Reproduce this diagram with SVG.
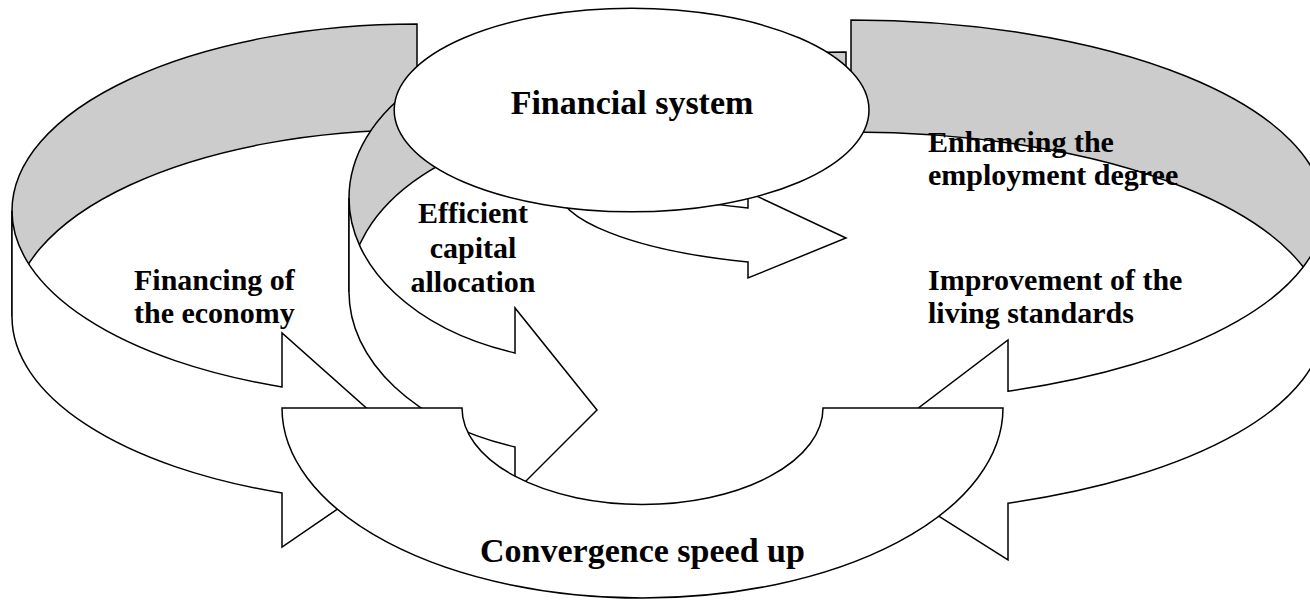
<svg xmlns="http://www.w3.org/2000/svg" width="1310" height="600" viewBox="0 0 1310 600">
<style>
.s{stroke:#000;stroke-width:1.5;stroke-linejoin:miter}
.w{fill:#fff}
.g{fill:#cccccc}
text{font-family:"Liberation Serif","Times New Roman",serif;font-weight:bold;fill:#000}
.t30{font-size:30px}
.t34{font-size:34px}
</style>
<rect width="1310" height="600" fill="#fff"/>
<g id="arrow-financing">
<path class="s g" d="M417,24 A405,186.8 0 0 0 12,210.8 L12,316.8 A405,186.8 0 0 1 417,130 Z"/>
<path class="s w" d="M12,210.8 A405,186.8 0 0 0 282,386.9 L282,333 L418,454 L282,547 L282,492.9 A405,186.8 0 0 1 12,316.8 Z"/>
</g>
<g id="arrow-efficient">
<path class="s g" d="M597,33.8 A248,164.2 0 0 0 349,198 L349,292 A248,164.2 0 0 1 597,127.8 Z"/>
<path class="s w" d="M349,198 A248,164.2 0 0 0 515,353 L515,308 L597,410 L515,492 L515,447 A248,164.2 0 0 1 349,292 Z"/>
</g>
<g id="arrow-hidden">
<path class="s g" d="M846,52 A289,80.4 0 0 0 557,132.4 L557,186.4 A289,80.4 0 0 1 846,106 Z"/>
<path class="s w" d="M557,132.4 A289,80.4 0 0 0 748,208 L748,192 L846,238 L748,278 L748,262 A289,80.4 0 0 1 557,186.4 Z"/>
</g>
<g id="arrow-employment">
<path class="s g" d="M851,20 A473,191 0 0 1 1324,211 L1324,323 A473,191 0 0 0 851,132 Z"/>
<path class="s w" d="M1324,211 A473,191 0 0 1 1008,391.2 L1008,340 L850,460 L1008,560 L1008,503.2 A473,191 0 0 0 1324,323 Z"/>
</g>
<g id="financial-system">
<ellipse class="s w" cx="631.6" cy="110" rx="237.4" ry="101.8"/>
<text class="t34" x="632" y="114" text-anchor="middle">Financial system</text>
</g>
<g id="convergence">
<path class="s w" d="M282,408 L462,408 A180.5,96.5 0 0 0 823,408 L1003,408 A360.5,190 0 0 1 282,408 Z"/>
<text class="t34" x="642.5" y="562" text-anchor="middle">Convergence speed up</text>
</g>
<g id="labels">
<text class="t30" x="134" y="290">Financing of</text>
<text class="t30" x="134" y="323">the economy</text>
<text class="t30" x="473" y="223" text-anchor="middle">Efficient</text>
<text class="t30" x="473" y="257.5" text-anchor="middle">capital</text>
<text class="t30" x="473" y="292" text-anchor="middle">allocation</text>
<text class="t30" x="928" y="152">Enhancing the</text>
<text class="t30" x="928" y="185">employment degree</text>
<text class="t30" x="928" y="290">Improvement of the</text>
<text class="t30" x="928" y="323">living standards</text>
</g>
</svg>
